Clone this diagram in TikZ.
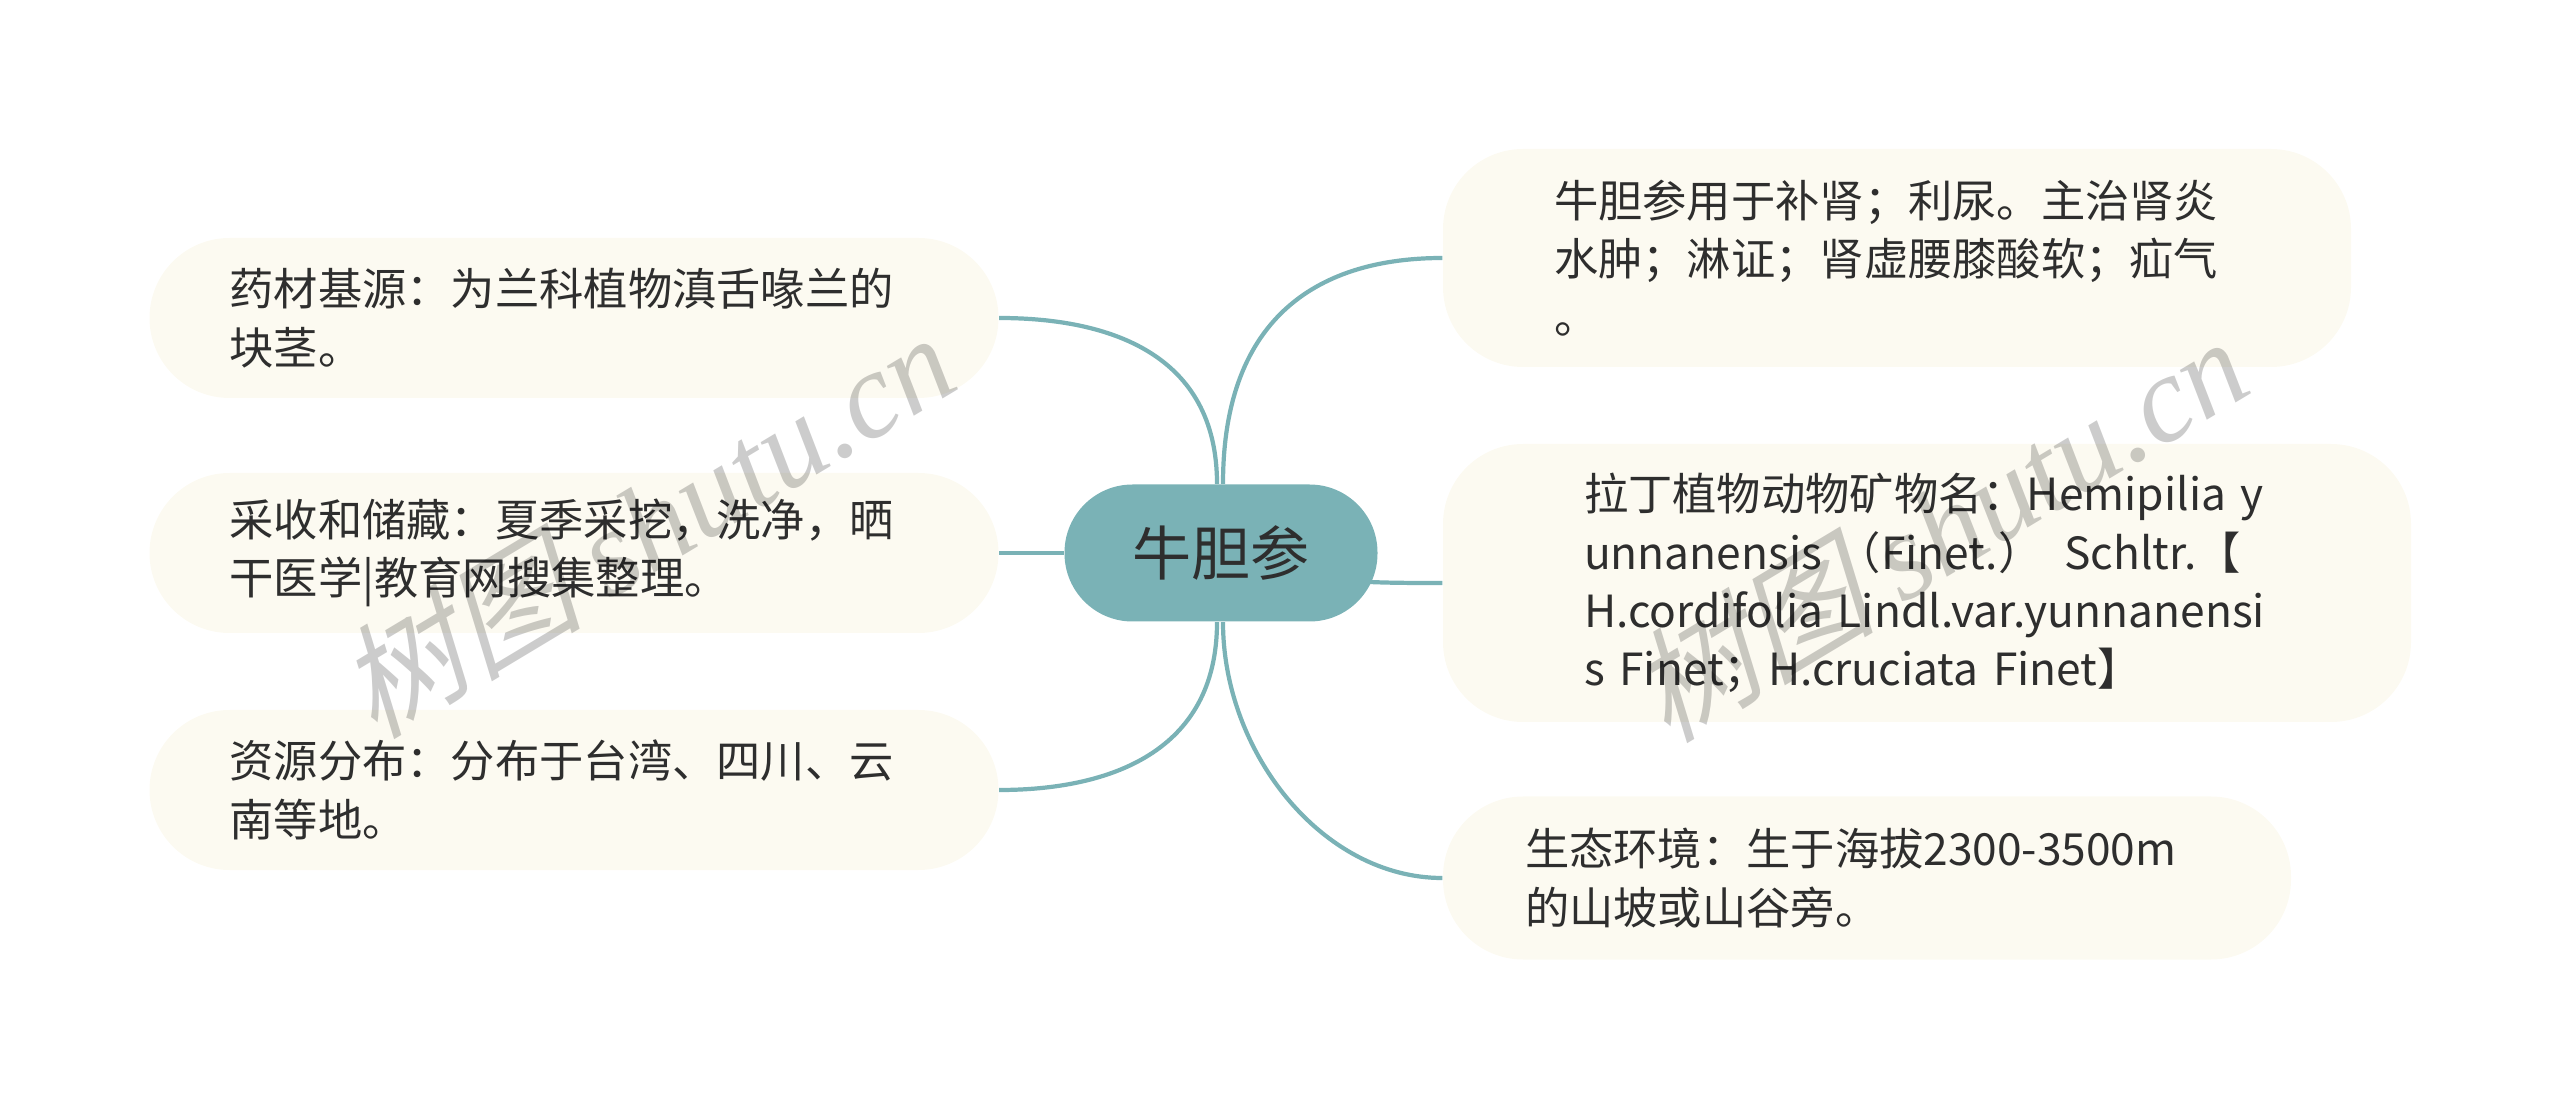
\documentclass[tikz,border=0pt]{standalone}
\usepackage{fontspec}
\setmainfont{Noto Sans CJK SC}
\newfontfamily\wmcjk[FakeSlant=0.25]{Noto Sans CJK SC}
\newfontfamily\wmlat{Liberation Serif}
\usetikzlibrary{backgrounds}
\definecolor{branch}{HTML}{7AB2B6}
\definecolor{cream}{HTML}{FCFAF1}
\definecolor{ink}{HTML}{2E2E2E}
\tikzset{
  topic/.style={fill=branch, rounded corners=0.68cm, minimum width=3.13cm,
    minimum height=1.37cm, text=ink, inner sep=0pt,
    font=\fontsize{16.8pt}{20pt}\selectfont},
  leaf/.style={fill=cream, rounded corners=0.8cm, text=ink, align=left,
    inner sep=0pt, font=\fontsize{12.6pt}{16.6pt}\selectfont},
  branchline/.style={draw=branch, line width=1.2pt},
  watermark/.style={rotate=31, text=black, text opacity=0.2,
    font=\fontsize{35pt}{35pt}\selectfont}
}
\begin{document}
\begin{tikzpicture}
        \useasboundingbox (0,0) rectangle (25.6,11.08);
        \node[topic] at (12.21,5.55) (C) {牛胆参};
        \node[leaf, minimum width=8.49cm, minimum height=1.60cm, text width=6.89cm] at (5.74,7.90) (L1)
          {药材基源：为兰科植物滇舌喙兰的\\块茎。};
        \node[leaf, minimum width=8.49cm, minimum height=1.60cm, text width=6.89cm] at (5.74,5.55) (L2)
          {采收和储藏：夏季采挖，洗净，晒\\干医学|教育网搜集整理。};
        \node[leaf, minimum width=8.49cm, minimum height=1.60cm, text width=6.89cm] at (5.74,3.18) (L3)
          {资源分布：分布于台湾、四川、云\\南等地。};
        \node[leaf, minimum width=9.08cm, minimum height=2.18cm, text width=6.86cm] at (18.97,8.50) (R1)
          {牛胆参用于补肾；利尿。主治肾炎\\水肿；淋证；肾虚腰膝酸软；疝气\\。};
        \node[leaf, minimum width=9.68cm, minimum height=2.78cm, text width=6.86cm] at (19.27,5.25) (R2)
          {\mbox{拉丁植物动物矿物名：Hemipilia y}\\\mbox{unnanensis （Finet.） Schltr.【}\\
           \mbox{H.cordifolia Lindl.var.yunnanensi}\\\mbox{s Finet；H.cruciata Finet】}};
        \node[leaf, minimum width=8.48cm, minimum height=1.63cm, text width=6.84cm] at (18.67,2.30) (R3)
          {\mbox{生态环境：生于海拔2300-3500m}\\的山坡或山谷旁。};
        \begin{scope}[on background layer]
        \draw[branchline] ([xshift=-0.04cm]C.north) .. controls +(0,1.3) and +(1.1,0) .. (L1.east);
        \draw[branchline] ([xshift=0.02cm]C.north) .. controls +(0,1.7) and +(-1.2,0) .. (R1.west);
        \draw[branchline] (C.west) -- (L2.east);
        \draw[branchline] (C.center) .. controls +(0.8,-0.3) and +(-0.8,0) .. (R2.west);
        \draw[branchline] ([xshift=-0.04cm]C.south) .. controls +(0,-1.3) and +(1.1,0) .. (L3.east);
        \draw[branchline] ([xshift=0.02cm]C.south) .. controls +(0,-1.3) and +(-1.2,0) .. (R3.west);
        \end{scope}
        \node[watermark] at (6.45,5.84) (wm1) {{\wmcjk 树图} {\wmlat\itshape shutu.cn}};
        \node[watermark] at (19.38,5.80) (wm2) {{\wmcjk 树图} {\wmlat\itshape shutu.cn}};
      \end{tikzpicture}
\end{document}
